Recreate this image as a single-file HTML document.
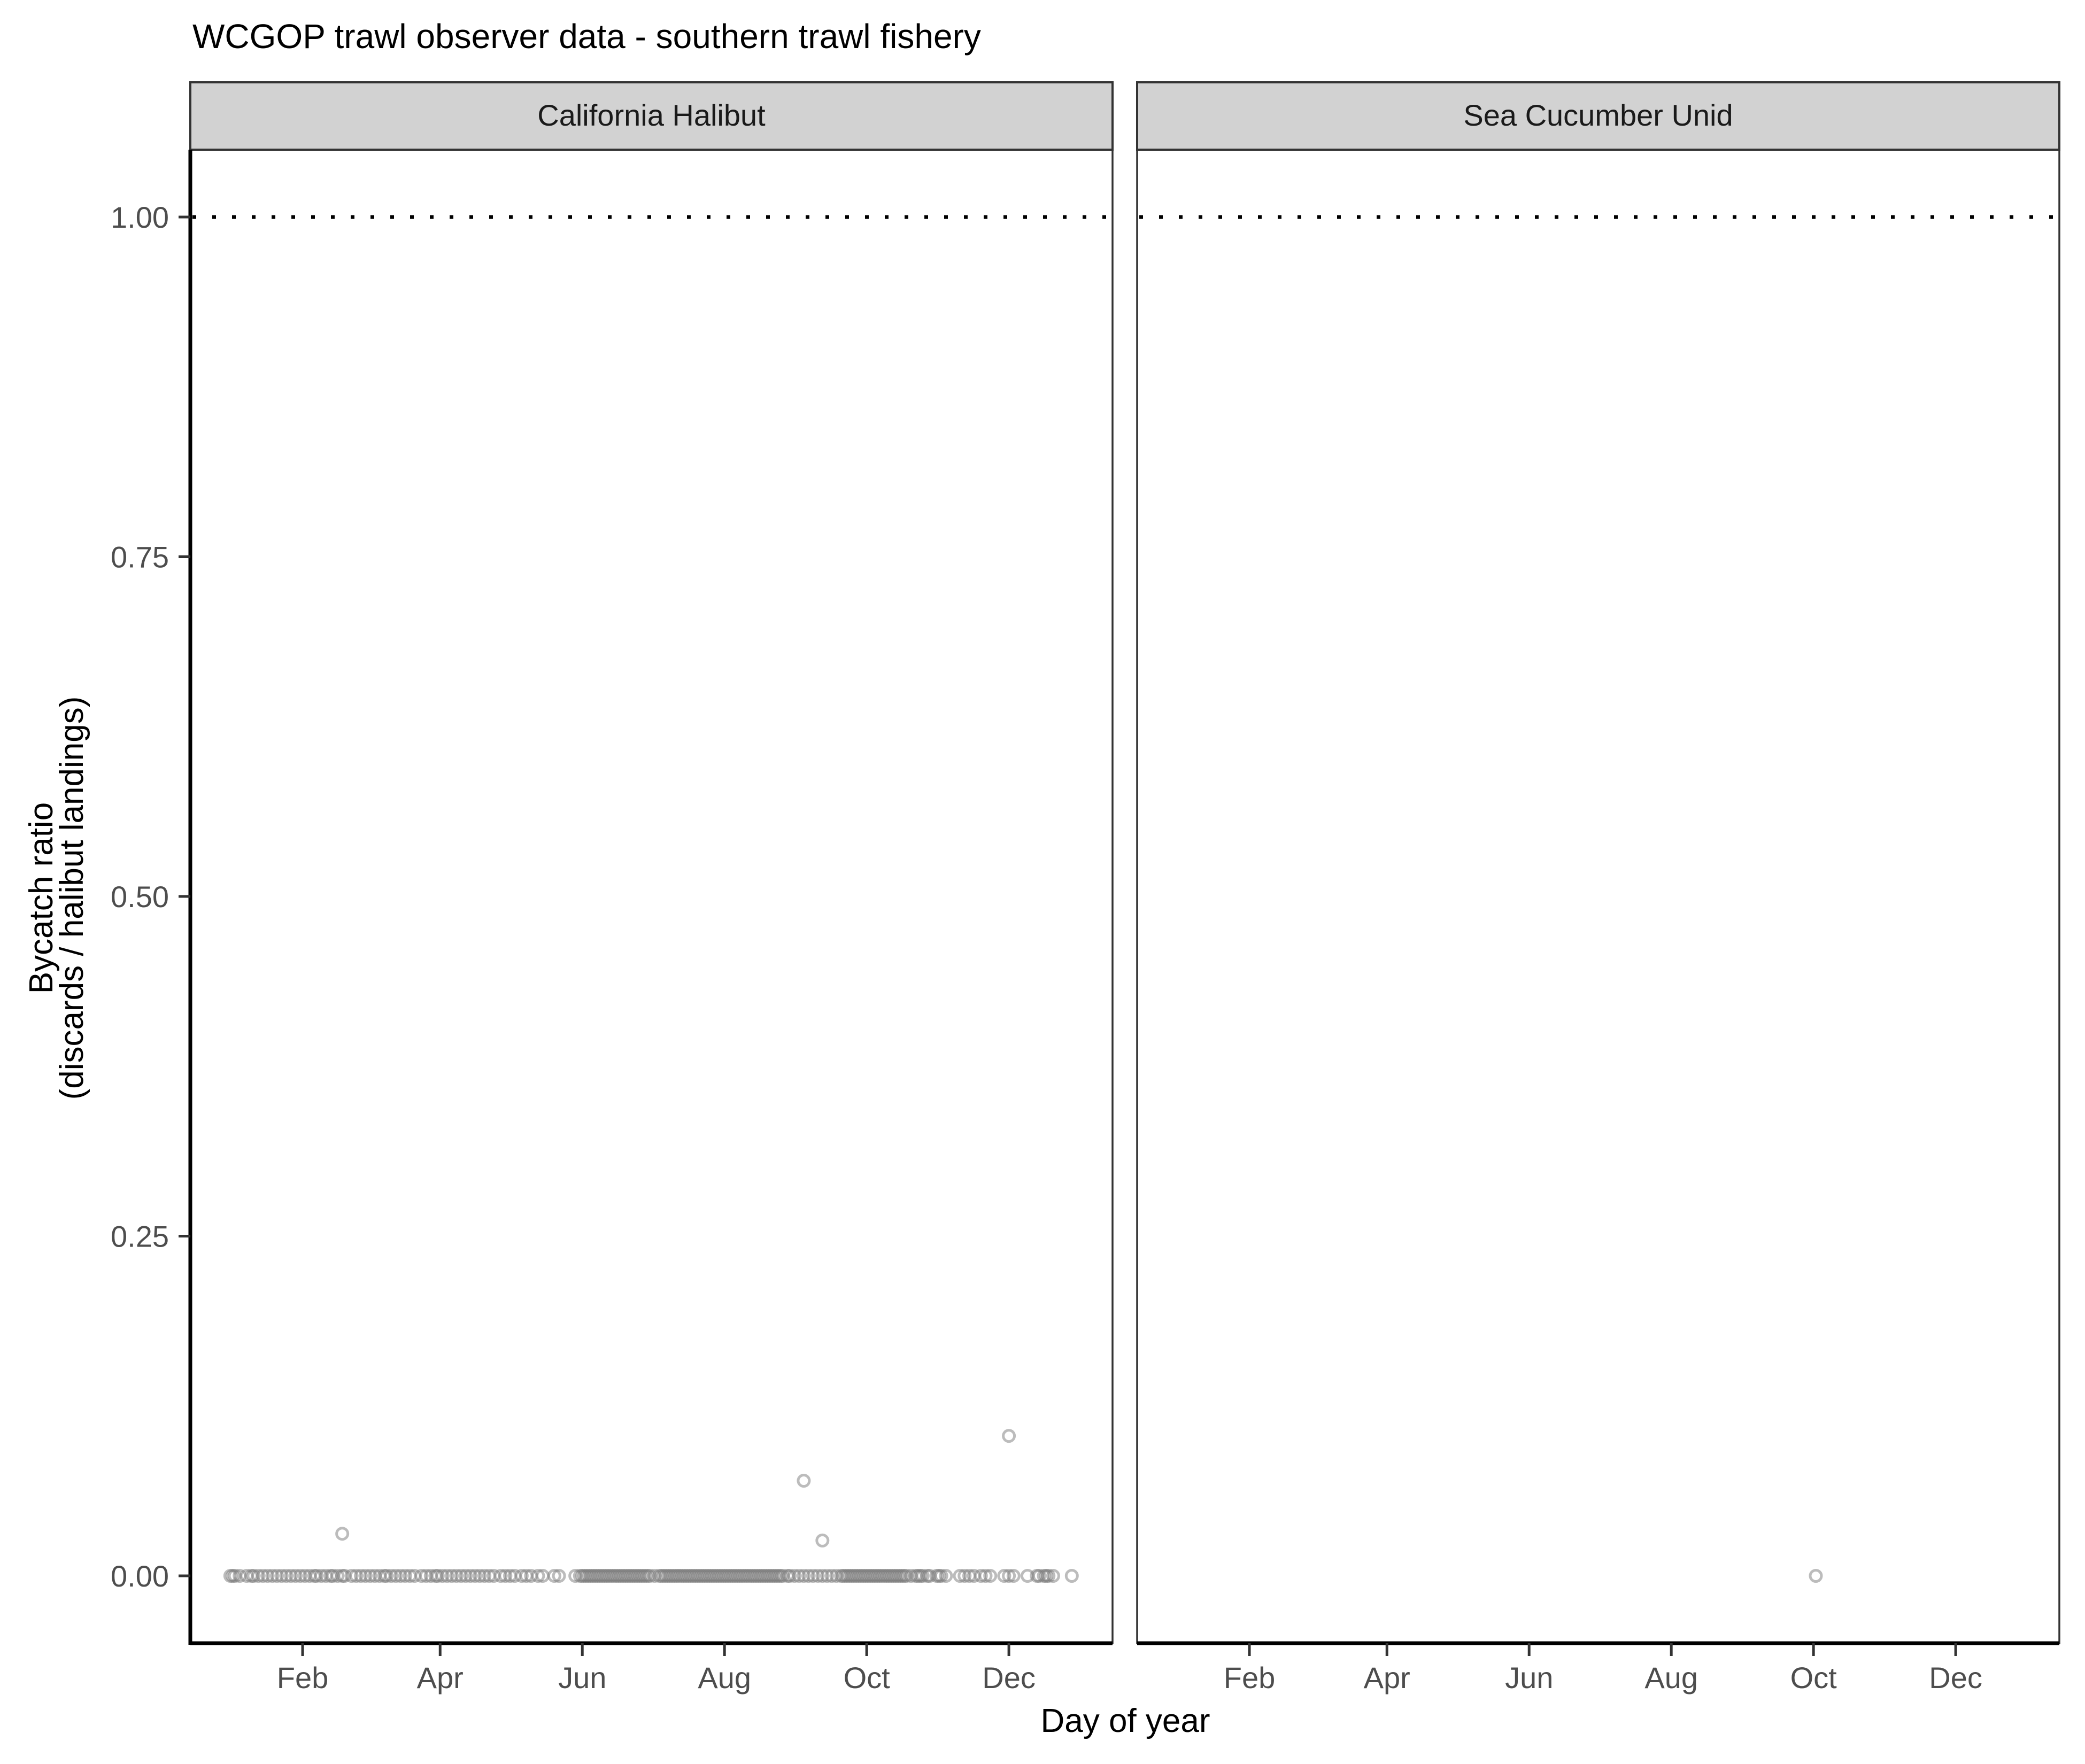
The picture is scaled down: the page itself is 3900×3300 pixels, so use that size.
<!DOCTYPE html>
<html><head><meta charset="utf-8"><style>
html,body{margin:0;padding:0;background:#fff;}
svg{display:block;font-family:"Liberation Sans",Arial,sans-serif;}
</style></head><body>
<svg id="chart" width="3900" height="3300" viewBox="0 0 3900 3300" xmlns="http://www.w3.org/2000/svg">
<rect width="3900" height="3300" fill="#fff"/>
<text x="360" y="90" font-size="64" fill="#000">WCGOP trawl observer data - southern trawl fishery</text>
<g id="panels"></g>
<text x="2105" y="3240" font-size="62" text-anchor="middle" fill="#000">Day of year</text>
<text transform="translate(98,1680) rotate(-90)" font-size="62" text-anchor="middle" fill="#000">Bycatch ratio</text>
<text transform="translate(155,1680) rotate(-90)" font-size="62" text-anchor="middle" fill="#000">(discards / halibut landings)</text>
</svg>
<script>
const panelNames = ["California Halibut", "Sea Cucumber Unid"];
const yTicks = [0, 0.25, 0.5, 0.75, 1.0];
const yTickLabels = ["0.00", "0.25", "0.50", "0.75", "1.00"];
const xTickDays = [32, 91, 152, 213, 274, 335];
const xTickLabels = ["Feb", "Apr", "Jun", "Aug", "Oct", "Dec"];
const refLine = 1.0;
const halibutZeroDays = [1,2,3,5,8,10,11,13,15,17,19,21,23,25,27,29,31,33,35,37,38,40,42,44,45,47,49,50,53,55,57,59,61,63,65,67,68,70,72,74,76,78,80,83,85,87,89,90,92,94,96,98,100,102,104,106,108,110,112,114,117,119,121,123,126,128,130,133,135,140,142,149,151,152,153,154,155,156,157,158,159,160,161,162,163,164,165,166,167,168,169,170,171,172,173,174,175,176,177,178,179,180,181,183,185,186,187,188,189,190,191,192,193,194,195,196,197,198,199,200,201,202,203,204,205,206,207,208,209,210,211,212,213,214,215,216,217,218,219,220,221,222,223,224,225,226,227,228,229,230,231,232,233,234,235,236,237,238,240,241,243,245,247,249,251,253,255,257,259,261,263,264,265,266,267,268,269,270,271,272,273,274,275,276,277,278,279,280,281,282,283,284,285,286,287,288,289,290,291,293,295,296,297,298,300,301,304,305,306,308,314,316,318,320,323,325,327,333,335,337,343,347,348,350,351,352,354,362];
const halibutOutlierDays = [49, 247, 255, 335];
const halibutOutlierValues = [0.031, 0.070, 0.026, 0.103];
const cucumberDays = [275];
const cucumberValues = [0];

const NS = "http://www.w3.org/2000/svg";
const panelsG = document.getElementById("panels");
const panelX = [356, 2127];
const panelW = 1725;
const plotTop = 280, plotBottom = 3074;
const stripTop = 154;
const dayScale = 4.36, day0 = 70.5;
function xScale(p, d){ return panelX[p] + day0 + d * dayScale; }
function yScale(v){ return 2948 - v * 2542; }
function mk(tag, attrs, parent){ const e = document.createElementNS(NS, tag); for (const k in attrs) e.setAttribute(k, attrs[k]); parent.appendChild(e); return e; }

function drawPoint(g, p, d, v){
  const c = mk("circle", {cx: xScale(p, d), cy: yScale(v), r: 10.5, fill: "none", stroke: "#7a7a7a", "stroke-width": 5, "stroke-opacity": 0.5}, g);
  
  
}

for (let p = 0; p < 2; p++){
  const g = mk("g", {}, panelsG);
  
  
  const x0 = panelX[p];
  const strip = mk("rect", {x: x0, y: stripTop, width: panelW, height: plotTop - stripTop, fill: "#d2d2d2", stroke: "#333", "stroke-width": 4}, g);
  
  
  const st = mk("text", {x: x0 + panelW/2, y: 235, "font-size": 56, "text-anchor": "middle", fill: "#1a1a1a"}, g);
  st.textContent = panelNames[p];
  
  
  const border = mk("rect", {x: x0, y: plotTop, width: panelW, height: plotBottom - plotTop, fill: "none", stroke: "#333", "stroke-width": 3.5}, g);
  
  
  const ref = mk("line", {x1: x0 + 4, x2: x0 + panelW, y1: yScale(refLine), y2: yScale(refLine), stroke: "#000", "stroke-width": 7, "stroke-dasharray": "7 30"}, g);
  
  
  const xa = mk("line", {x1: x0, x2: x0 + panelW, y1: plotBottom, y2: plotBottom, stroke: "#000", "stroke-width": 7}, g);
  
  
  xTickDays.forEach((d, i) => {
    const tx = xScale(p, d);
    const t = mk("line", {x1: tx, x2: tx, y1: plotBottom, y2: plotBottom + 24, stroke: "#333", "stroke-width": 5}, g);
    
    
    const l = mk("text", {x: tx, y: 3158, "font-size": 56, "text-anchor": "middle", fill: "#4d4d4d"}, g);
    l.textContent = xTickLabels[i];
    
    
  });
}
// y axis
const ya = mk("line", {x1: 356, x2: 356, y1: plotTop, y2: plotBottom + 3, stroke: "#000", "stroke-width": 7}, panelsG);


yTicks.forEach((v, i) => {
  const ty = yScale(v);
  const t = mk("line", {x1: 334, x2: 356, y1: ty, y2: ty, stroke: "#333", "stroke-width": 5}, panelsG);
  
  
  const l = mk("text", {x: 316, y: ty + 20, "font-size": 56, "text-anchor": "end", fill: "#4d4d4d"}, panelsG);
  l.textContent = yTickLabels[i];
  
  
});
const pts = mk("g", {}, panelsG);


halibutZeroDays.forEach(d => drawPoint(pts, 0, d, 0));
halibutOutlierDays.forEach((d, i) => drawPoint(pts, 0, d, halibutOutlierValues[i]));
cucumberDays.forEach((d, i) => drawPoint(pts, 1, d, cucumberValues[i]));
</script>
</body></html>
